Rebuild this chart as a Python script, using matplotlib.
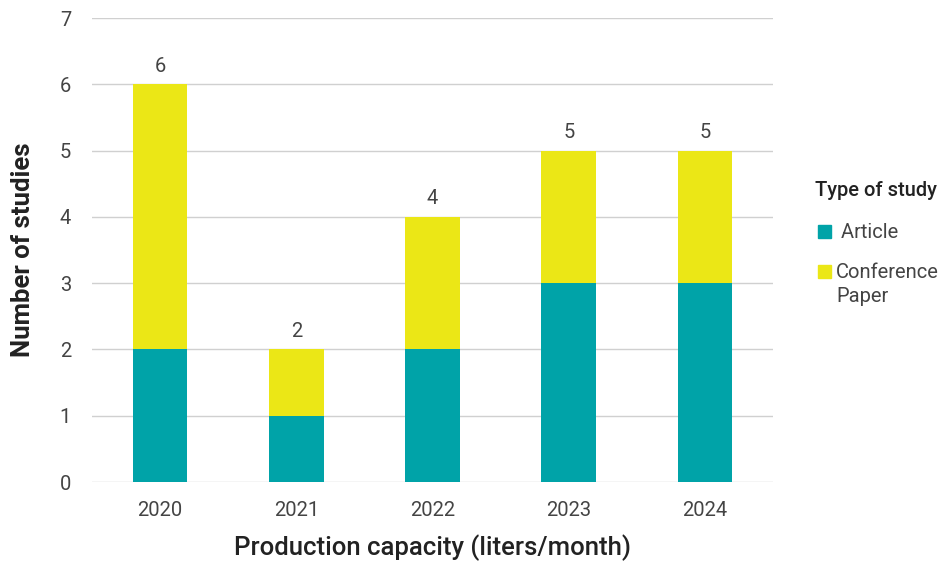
import matplotlib.pyplot as plt
import numpy as np
from matplotlib.patches import Rectangle

plt.rcParams['font.family'] = ['Roboto', 'DejaVu Sans']

years = ['2020', '2021', '2022', '2023', '2024']
article = [2, 1, 2, 3, 3]
conference = [4, 1, 2, 2, 2]
totals = [a + c for a, c in zip(article, conference)]

teal = '#00A3A8'
yellow = '#EBE716'
text_col = '#444444'
dark = '#222222'

W, H = 946, 568
fig = plt.figure(figsize=(W / 100, H / 100), dpi=100)
ax = fig.add_axes([92 / W, 1 - 482 / H, 681 / W, 464 / H])

x = np.arange(len(years))
ax.bar(x, article, width=0.4, color=teal, zorder=3)
ax.bar(x, conference, width=0.4, bottom=article, color=yellow, zorder=3)

for xi, t in zip(x, totals):
    ax.text(xi, t + 0.13, str(t), ha='center', va='bottom', fontsize=14.5,
            color=text_col)

ax.set_xlim(-0.5, 4.5)
ax.set_ylim(0, 7)
ax.set_yticks(range(8))
ax.set_xticks(x)
ax.set_xticklabels(years)
ax.grid(axis='y', color='#d0d0d0', linewidth=1, zorder=0)
for s in ax.spines.values():
    s.set_visible(False)
ax.tick_params(length=0, labelsize=14.5, colors=text_col)
ax.tick_params(axis='x', pad=14)
ax.tick_params(axis='y', pad=15)

ax.set_xlabel('Production capacity (liters/month)', fontsize=18.5, color=dark,
              fontweight='medium', labelpad=10)
ax.set_ylabel('Number of studies', fontsize=18.5, color=dark,
              fontweight='bold', labelpad=18)

# legend drawn by hand so the swatch sits on the first line of each label
fig.text(815 / W, 1 - 190 / H, 'Type of study', fontsize=14.5, fontweight='medium',
         color=dark, va='center', ha='left')
legend_items = [(' Article', teal, 231), ('Conference\nPaper', yellow, 271)]
sq = 13
for label, col, yc in legend_items:
    fig.patches.append(Rectangle((818 / W, 1 - (yc + sq / 2) / H), sq / W, sq / H,
                                 transform=fig.transFigure, color=col))
    fig.text(836 / W, 1 - (yc - 8) / H, label, fontsize=14.5, color=text_col,
             va='top', ha='left', linespacing=1.3)

fig.savefig('out.png', dpi=100)
